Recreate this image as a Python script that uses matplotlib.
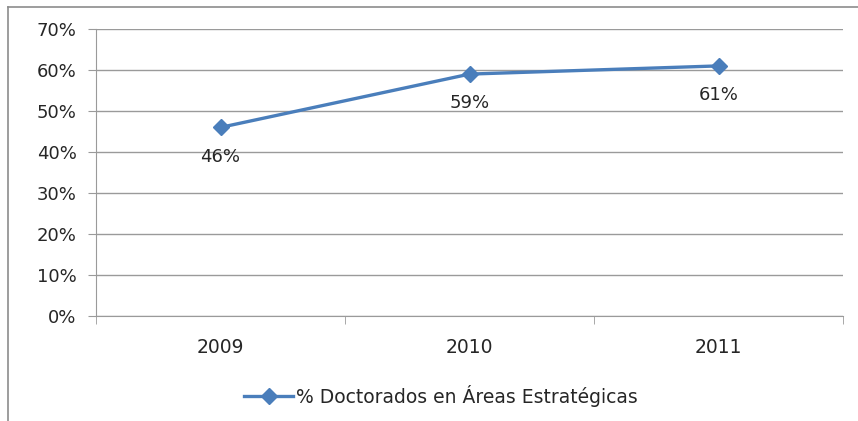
import matplotlib.pyplot as plt
from matplotlib.lines import Line2D
from matplotlib.ticker import FuncFormatter, MultipleLocator

years = ["2009", "2010", "2011"]
values = [46, 59, 61]
series_name = "% Doctorados en Áreas Estratégicas"

blue = "#4A7EBB"
grid_gray = "#9a9a9a"
text_color = "#262626"

plt.rcParams["font.family"] = ["DejaVu Sans"]

fig = plt.figure(figsize=(8.58, 4.21), dpi=100)
ax = fig.add_axes([96 / 858, 1 - 316 / 421, (843 - 96) / 858, (316 - 29) / 421])

xs = list(range(len(years)))
ax.plot(xs, values, color=blue, lw=2.4, marker="D", ms=8,
        markerfacecolor=blue, markeredgecolor=blue, label=series_name)

for x, v in zip(xs, values):
    ax.annotate(f"{v}%", (x, v), xytext=(0, -21), textcoords="offset points",
                ha="center", va="center", fontsize=13, color=text_color)

ax.set_xlim(-0.5, len(years) - 0.5)
ax.set_ylim(0, 70)
ax.yaxis.set_major_locator(MultipleLocator(10))
ax.yaxis.set_major_formatter(FuncFormatter(lambda v, p: f"{v:.0f}%"))
ax.set_xticks(xs)
ax.set_xticklabels(years)
ax.set_xticks([-0.5, 0.5, 1.5, 2.5], minor=True)
ax.tick_params(axis="x", which="major", length=0, pad=16, labelsize=13.5,
               labelcolor=text_color)
ax.tick_params(axis="x", which="minor", length=6, color=grid_gray, direction="out")
ax.tick_params(axis="y", length=6, color=grid_gray, labelsize=13, pad=8,
               labelcolor=text_color)

ax.grid(axis="y", color=grid_gray, lw=1)
ax.set_axisbelow(True)
for side in ["top", "right"]:
    ax.spines[side].set_visible(False)
ax.spines["left"].set_color(grid_gray)
ax.spines["bottom"].set_color(grid_gray)

leg = fig.legend(loc="center", bbox_to_anchor=(441 / 858, 1 - 396 / 421), frameon=False,
                 prop={"size": 13.5}, handlelength=2.6, handletextpad=0.15,
                 labelcolor=text_color)

# outer chart frame
fig.add_artist(Line2D([8 / 858, 1], [1 - 7 / 421, 1 - 7 / 421], color="#8c8c8c", lw=1.2))
fig.add_artist(Line2D([8 / 858, 8 / 858], [0, 1 - 7 / 421], color="#8c8c8c", lw=1.2))

fig.savefig("out.png", dpi=100)
